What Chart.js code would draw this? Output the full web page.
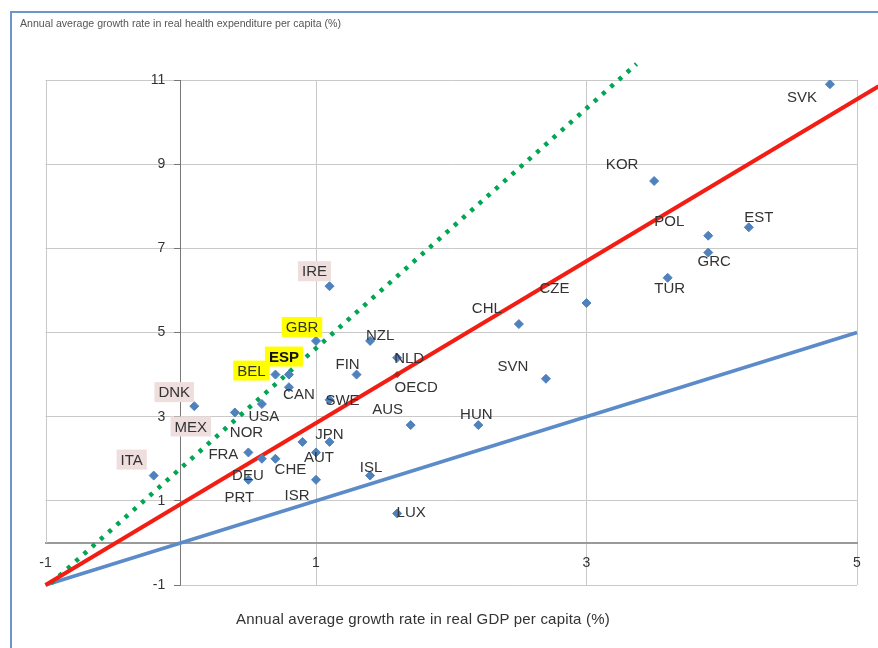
<!DOCTYPE html>
<html>
<head>
<meta charset="utf-8">
<script src="https://cdn.jsdelivr.net/npm/chart.js@4"></script>
<style>
html,body{margin:0;padding:0;background:#fff;}
#wrap{position:relative;width:878px;height:648px;overflow:hidden;background:#fff;}
#frame{position:absolute;left:10px;top:11px;width:900px;height:700px;border-left:2.5px solid #6A96CC;border-top:2.5px solid #6A96CC;box-sizing:border-box;pointer-events:none;}
#ytitle{position:absolute;left:20px;top:17px;font-family:'Liberation Sans',Arial,sans-serif;font-size:10.6px;color:#555;white-space:nowrap;}
#xtitle{position:absolute;left:0;width:846px;top:610px;text-align:center;font-family:'Liberation Sans',Arial,sans-serif;font-size:15px;letter-spacing:0.2px;color:#333;white-space:nowrap;}
canvas{position:absolute;left:0;top:0;}
</style>
</head>
<body>
<div id="wrap">
  <canvas id="c" width="878" height="648"></canvas>
  <div id="frame"></div>
  <div id="ytitle">Annual average growth rate in real health expenditure per capita (%)</div>
  <div id="xtitle">Annual average growth rate in real GDP per capita (%)</div>
</div>
<script>
// ---- data ----
const countries    = ['SVK','KOR','POL','EST','GRC','TUR','CZE','CHL','SVN','HUN','AUS','LUX','ISL','NLD','NZL','FIN','SWE','IRE','GBR','ESP','BEL','CAN','USA','DNK','MEX','NOR','JPN','AUT','FRA','CHE','DEU','PRT','ISR','ITA'];
const gdpGrowth    = [4.8, 3.5, 3.9, 4.2, 3.9, 3.6, 3.0, 2.5, 2.7, 2.2, 1.7, 1.6, 1.4, 1.6, 1.4, 1.3, 1.1, 1.1, 1.0, 0.8, 0.7, 0.8, 0.6, 0.1, 0.4, 0.9, 1.1, 1.0, 0.5, 0.7, 0.6, 0.5, 1.0, -0.2];
const healthGrowth = [10.9, 8.6, 7.3, 7.5, 6.9, 6.3, 5.7, 5.2, 3.9, 2.8, 2.8, 0.7, 1.6, 4.4, 4.8, 4.0, 3.4, 6.1, 4.8, 4.0, 4.0, 3.7, 3.3, 3.25, 3.1, 2.4, 2.4, 2.15, 2.15, 2.0, 2.0, 1.5, 1.5, 1.6];

const oecdLabel  = ['OECD'];
const oecdGdp    = [1.6];
const oecdHealth = [4.0];

// reference lines (end points)
const equalLineX   = [-1, 5];        // blue: health growth = GDP growth
const equalLineY   = [-1, 5];
const oecdLineX    = [-1, 5.16];     // red
const oecdLineY    = [-1, 10.85];
const greenLineX   = [-0.96, 3.37];  // green dotted
const greenLineY   = [-0.96, 11.38];

const xTicks = [-1, 1, 3, 5];
const yTicks = [-1, 1, 3, 5, 7, 9, 11];

// ---- label styling (layout, not data) ----
const labelOffsets = {
  SVK:[-28,13], KOR:[-32,-17], POL:[-39,-15], EST:[10,-10], GRC:[6,8], TUR:[2,10],
  CZE:[-32,-15], CHL:[-32,-16], SVN:[-33,-13], HUN:[-2,-11], AUS:[-23,-16], LUX:[14,-2],
  ISL:[1,-9], NLD:[12,0], NZL:[10,-6], FIN:[-9,-11], SWE:[13,0], IRE:[-15,-15],
  GBR:[-14,-14], ESP:[-5,-18], BEL:[-24,-4], CAN:[10,7], USA:[2,12], DNK:[-20,-14],
  MEX:[-44,14], NOR:[-56,-10], JPN:[0,-8], AUT:[3,4], FRA:[-25,1], CHE:[15,10],
  DEU:[-14,16], PRT:[-9,17], ISR:[-19,15], ITA:[-22,-16], OECD:[19,12]
};
const pinkBox   = ['IRE','DNK','MEX','ITA'];
const yellowBox = ['GBR','ESP','BEL'];
const boldLabel = ['ESP'];
const GRID = '#C9C9C9';

const toPoints = (xs, ys) => xs.map((x, i) => ({x: x, y: ys[i]}));

// plot-area edges that the original only draws partly
const edgePlugin = {
  id: 'partialEdges',
  beforeDatasetsDraw(chart) {
    const {ctx, scales: {x, y}} = chart;
    ctx.save();
    ctx.strokeStyle = GRID;
    ctx.lineWidth = 1;
    ctx.beginPath();
    const xl = Math.round(x.getPixelForValue(x.min)) + 0.5;
    ctx.moveTo(xl, y.getPixelForValue(y.max));
    ctx.lineTo(xl, y.getPixelForValue(0));
    const yb = Math.round(y.getPixelForValue(y.min)) + 0.5;
    ctx.moveTo(x.getPixelForValue(0), yb);
    ctx.lineTo(x.getPixelForValue(x.max), yb);
    ctx.stroke();
    ctx.restore();
  }
};

const labelPlugin = {
  id: 'pointLabels',
  afterDatasetsDraw(chart) {
    const ctx = chart.ctx;
    ctx.save();
    ctx.textAlign = 'center';
    ctx.textBaseline = 'middle';
    const drawSet = (dsIndex, names) => {
      const meta = chart.getDatasetMeta(dsIndex);
      meta.data.forEach((el, i) => {
        const name = names[i];
        const off = labelOffsets[name] || [0, 0];
        const cx = el.x + off[0], cy = el.y + off[1];
        const bold = boldLabel.includes(name);
        ctx.font = (bold ? 'bold ' : '') + "15px 'Liberation Sans', Arial, sans-serif";
        const w = ctx.measureText(name).width;
        if (pinkBox.includes(name) || yellowBox.includes(name)) {
          ctx.fillStyle = yellowBox.includes(name) ? '#FFFF00' : '#EFDEDE';
          ctx.fillRect(cx - w / 2 - 4, cy - 10, w + 8, 20);
        }
        ctx.fillStyle = bold ? '#111' : '#333';
        ctx.fillText(name, cx, cy + 1);
      });
    };
    drawSet(0, countries);
    drawSet(1, oecdLabel);
    ctx.restore();
  }
};

new Chart(document.getElementById('c'), {
  type: 'scatter',
  data: {
    datasets: [
      {
        label: 'Countries',
        data: toPoints(gdpGrowth, healthGrowth),
        pointStyle: 'rectRot',
        pointRadius: 4.5,
        pointBackgroundColor: '#4F81BD',
        pointBorderColor: '#4F81BD',
        pointBorderWidth: 1,
        order: 0
      },
      {
        label: 'OECD',
        data: toPoints(oecdGdp, oecdHealth),
        pointStyle: 'rectRot',
        pointRadius: 3,
        pointBackgroundColor: '#C0201A',
        pointBorderColor: '#C0201A',
        order: 0
      },
      {
        label: 'Green',
        data: toPoints(greenLineX, greenLineY),
        showLine: true,
        borderColor: '#00A651',
        borderWidth: 4.5,
        borderDash: [4, 7],
        borderCapStyle: 'butt',
        pointRadius: 0,
        clip: false,
        order: 3
      },
      {
        label: 'Red',
        data: toPoints(oecdLineX, oecdLineY),
        showLine: true,
        borderColor: '#F21E14',
        borderWidth: 4,
        pointRadius: 0,
        clip: false,
        order: 2
      },
      {
        label: 'Blue',
        data: toPoints(equalLineX, equalLineY),
        showLine: true,
        borderColor: '#5B8BC9',
        borderWidth: 3.5,
        pointRadius: 0,
        clip: false,
        order: 4
      }
    ]
  },
  options: {
    responsive: false,
    animation: false,
    layout: { padding: { left: 45.5, top: 80, right: 21, bottom: 63 } },
    plugins: { legend: { display: false }, tooltip: { enabled: false }, title: { display: false } },
    scales: {
      x: {
        type: 'linear',
        min: -1, max: 5,
        position: { y: 0 },
        afterBuildTicks: s => { s.ticks = xTicks.map(v => ({ value: v })); },
        grid: { color: ctx => (ctx.tick && ctx.tick.value === -1 ? 'rgba(0,0,0,0)' : GRID), lineWidth: 1, drawTicks: false },
        border: { color: '#9A9A9A', width: 2 },
        ticks: { font: { family: "'Liberation Sans', Arial, sans-serif", size: 14 }, color: '#333', padding: 12, maxRotation: 0 }
      },
      y: {
        type: 'linear',
        min: -1, max: 11,
        position: { x: 0 },
        afterBuildTicks: s => { s.ticks = yTicks.map(v => ({ value: v })); },
        grid: { color: ctx => (ctx.tick && ctx.tick.value === -1 ? 'rgba(0,0,0,0)' : GRID), lineWidth: 1, drawTicks: true, tickLength: 6, tickColor: '#777' },
        border: { color: '#777', width: 1 },
        ticks: {
          font: { family: "'Liberation Sans', Arial, sans-serif", size: 14 }, color: '#333', padding: 8,
          callback: v => String(v) + '\u2007\u2007'
        }
      }
    }
  },
  plugins: [edgePlugin, labelPlugin]
});
</script>
</body>
</html>
